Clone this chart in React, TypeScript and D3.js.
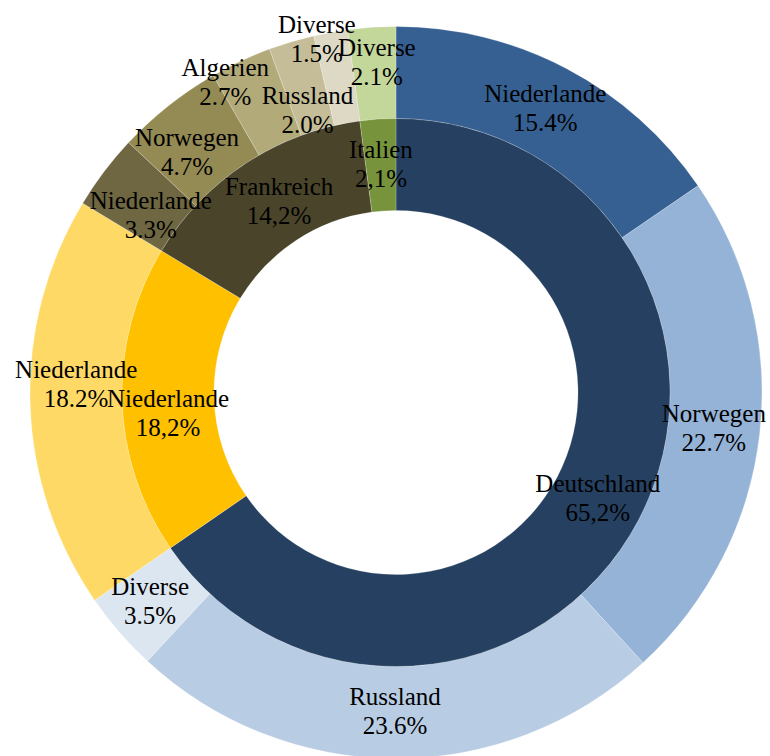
import React from "react";
import * as d3 from "d3";

// Inner ring: importing country share
const innerCategories = ["Deutschland", "Niederlande", "Frankreich", "Italien"];
const innerValues = [65.2, 18.2, 14.2, 2.1];
const innerColors = ["#254061", "#FFC000", "#4A452A", "#77933C"];

// Outer ring: sources per country
const outerCategories = [
  "Niederlande", "Norwegen", "Russland", "Diverse",
  "Niederlande",
  "Niederlande", "Norwegen", "Algerien", "Russland", "Diverse",
  "Diverse",
];
const outerValues = [15.4, 22.7, 23.6, 3.5, 18.2, 3.3, 4.7, 2.7, 2.0, 1.5, 2.1];
const outerColors = [
  "#366092", "#95B3D7", "#B8CCE4", "#DCE6F1",
  "#FFD966",
  "#6E6742", "#948A54", "#B3AA7A", "#C4BD97", "#DDD9C4",
  "#C4D79B",
];

// label nudges (layout only)
const innerLabelShift: [number, number][] = [[0, 0], [0, 15], [8, 0], [0, 0]];
const outerLabelShift: [number, number][] = [
  [0, 0], [0, 0], [0, 0], [-4, 0],
  [0, -17],
  [10, 17], [-10, 11], [-35, -20], [3, 25], [-22, -38],
  [2, -10],
];

const W = 770, H = 756;
const CX = 396, CY = 392.5;
const R0 = 182, R1 = 274, R2 = 366;

const fmtOuter = (v: number) => d3.format(".1f")(v) + "%";
const fmtInner = (v: number) => d3.format(".1f")(v).replace(".", ",") + "%";

export default function App() {
  const pie = d3.pie<number>().sort(null).value((d) => d);
  const innerArcs = pie(innerValues);
  const outerArcs = pie(outerValues);
  const innerArc = d3.arc<d3.PieArcDatum<number>>().innerRadius(R0).outerRadius(R1);
  const outerArc = d3.arc<d3.PieArcDatum<number>>().innerRadius(R1).outerRadius(R2);

  const label = (x: number, y: number, name: string, val: string, key: string) => (
    <g key={key} fontFamily="Liberation Serif, serif" fontSize={25} fill="#000" textAnchor="middle">
      <text x={x} y={y - 7}>{name}</text>
      <text x={x} y={y + 22}>{val}</text>
    </g>
  );

  return (
    <svg width={W} height={H} style={{ position: "absolute", left: 0, top: 0 }}>
      <rect width={W} height={H} fill="#fff" />
      <g transform={`translate(${CX},${CY})`}>
        {outerArcs.map((a, i) => (
          <path key={"o" + i} d={outerArc(a) || ""} fill={outerColors[i]} stroke="#ffffff" strokeOpacity={0.35} strokeWidth={0.6} />
        ))}
        {innerArcs.map((a, i) => (
          <path key={"i" + i} d={innerArc(a) || ""} fill={innerColors[i]} stroke="#ffffff" strokeOpacity={0.35} strokeWidth={0.6} />
        ))}
        {outerArcs.map((a, i) => {
          const [x, y] = outerArc.centroid(a);
          const [dx, dy] = outerLabelShift[i];
          return label(x + dx, y + dy, outerCategories[i], fmtOuter(outerValues[i]), "ol" + i);
        })}
        {innerArcs.map((a, i) => {
          const [x, y] = innerArc.centroid(a);
          const [dx, dy] = innerLabelShift[i];
          return label(x + dx, y + dy, innerCategories[i], fmtInner(innerValues[i]), "il" + i);
        })}
      </g>
    </svg>
  );
}
